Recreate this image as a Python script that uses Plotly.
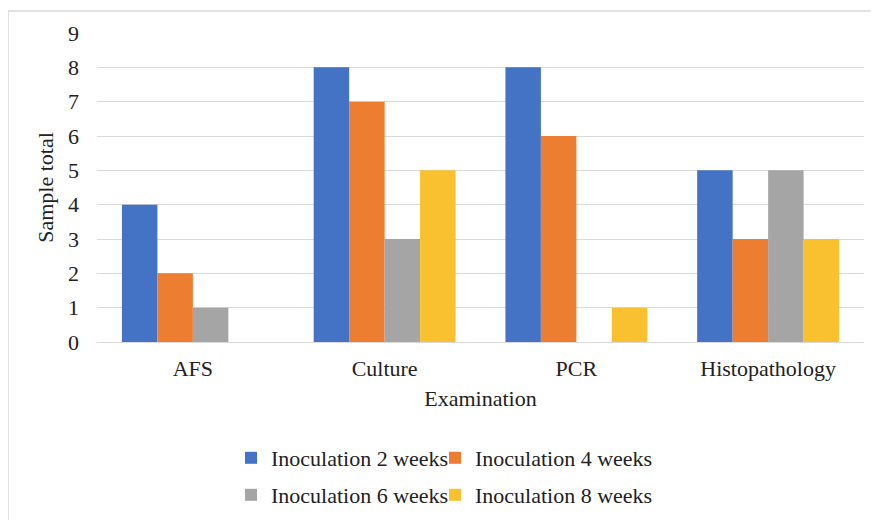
import plotly.graph_objects as go

categories = ["AFS", "Culture", "PCR", "Histopathology"]
series_names = ["Inoculation 2 weeks", "Inoculation 4 weeks",
                "Inoculation 6 weeks", "Inoculation 8 weeks"]
week2 = [4, 8, 8, 5]
week4 = [2, 7, 6, 3]
week6 = [1, 3, 0, 5]
week8 = [0, 5, 1, 3]
y_ticks = [0, 1, 2, 3, 4, 5, 6, 7, 8, 9]

colors = ["#4472C4", "#ED7D31", "#A5A5A5", "#F9C02F"]
values = [week2, week4, week6, week8]
legend_ids = ["legend", "legend2", "legend3", "legend4"]

# page has an 8px body margin; figure coords = screen coords - 8
W, H = 871, 512
ml, mr, mt, mb = 89, 15, 25, 178
pw, ph = W - ml - mr, H - mt - mb

def px_x(x):
    return (x - ml) / pw

def px_y(y):
    return (H - mb - y) / ph

font = "Liberation Serif, Times New Roman, serif"
txt = "#222222"
fs = 22

fig = go.Figure()
for name, vals, col, lg in zip(series_names, values, colors, legend_ids):
    fig.add_trace(go.Bar(x=categories, y=vals, name=name, showlegend=True,
                         marker=dict(color=col, line=dict(width=0)),
                         legend=lg))

legend_common = dict(orientation="h", xanchor="left", yanchor="middle",
                     xref="container", yref="container",
                     font=dict(family=font, size=fs, color=txt),
                     bgcolor="rgba(0,0,0,0)")

leg_pos = [(223, 450), (427, 450), (223, 487), (427, 487)]
legend_layout = {}
for lg, (lx, ly) in zip(legend_ids, leg_pos):
    legend_layout[lg] = dict(x=lx / W, y=1 - ly / H, **legend_common)

fig.update_layout(
    width=W, height=H,
    margin=dict(l=ml, r=mr, t=mt, b=mb, autoexpand=False),
    paper_bgcolor="white", plot_bgcolor="white",
    showlegend=True,
    barmode="group", bargap=0.26, bargroupgap=0,
    font=dict(family=font, size=fs, color=txt),
    xaxis=dict(title=dict(text="Examination", standoff=10,
                          font=dict(family=font, size=fs, color=txt)),
               automargin=False,
               showgrid=False, showline=False, zeroline=False,
               ticks="", ticklabelstandoff=11,
               tickfont=dict(family=font, size=fs, color=txt)),
    yaxis=dict(title=dict(text="Sample total", standoff=8,
                          font=dict(family=font, size=fs, color=txt)),
               automargin=False,
               range=[0, 9], tickvals=y_ticks,
               showgrid=True, gridcolor="#D9D9D9", gridwidth=1,
               zeroline=True, zerolinecolor="#D9D9D9", zerolinewidth=1,
               showline=False, ticks="", ticklabelstandoff=17,
               tickfont=dict(family=font, size=fs, color=txt)),
    shapes=[dict(type="rect", xref="paper", yref="paper",
                 x0=px_x(0), x1=px_x(890), y0=px_y(540), y1=px_y(3),
                 line=dict(color="#D9D9D9", width=1.5),
                 fillcolor="rgba(0,0,0,0)", layer="below")],
    **legend_layout,
)

fig.write_html("out.html")
